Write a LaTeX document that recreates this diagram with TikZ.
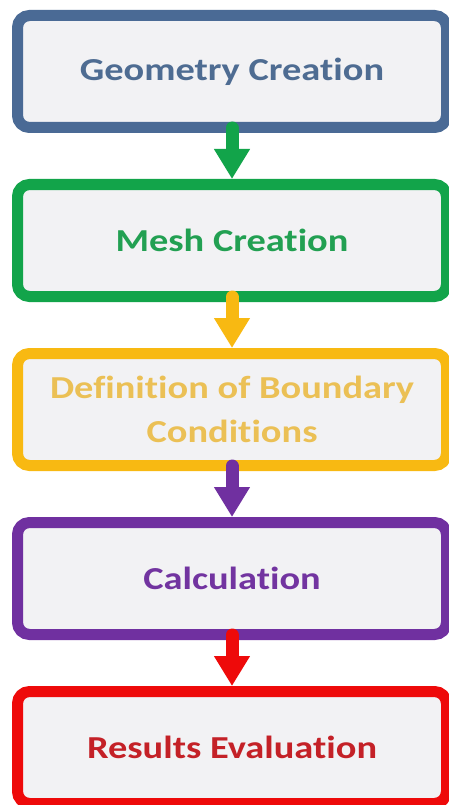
\documentclass[tikz,border=0pt]{standalone}
\usepackage{fontspec}
\setmainfont{Carlito}[FakeStretch=1.2, Ligatures=NoCommon]
\usetikzlibrary{arrows.meta,positioning}

\definecolor{boxgray}{HTML}{F2F2F4}
\definecolor{geoblue}{HTML}{4A6A95}
\definecolor{geotext}{HTML}{4E6C92}
\definecolor{meshgreen}{HTML}{12A44A}
\definecolor{meshtext}{HTML}{22A052}
\definecolor{bcyellow}{HTML}{F8B912}
\definecolor{bctext}{HTML}{EBC055}
\definecolor{calcpurple}{HTML}{7030A0}
\definecolor{calctext}{HTML}{7234A0}
\definecolor{resred}{HTML}{EE0A0A}
\definecolor{restext}{HTML}{C42127}

\begin{document}
\begin{tikzpicture}[node distance=46pt,
    stage/.style={draw=#1, fill=boxgray, line width=11pt, rounded corners=12pt,
      minimum width=429pt, minimum height=112pt, align=center,
      font=\bfseries\fontsize{32pt}{44pt}\selectfont},
    flow/.style={-{Triangle[width=34pt,length=30pt]}, line width=13pt,
      line cap=round, color=#1}]
  \useasboundingbox[fill=white] (0,0) rectangle (449pt,-805pt);

  \node (geo) [stage=geoblue, text=geotext] at (232pt,-71.5pt) {Geometry Creation};
  \node (mesh) [below=of geo, stage=meshgreen, text=meshtext] {Mesh Creation};
  \node (bc) [below=of mesh, stage=bcyellow, text=bctext] {Definition of Boundary\\Conditions};
  \node (calc) [below=of bc, stage=calcpurple, text=calctext] {Calculation};
  \node (res) [below=of calc, stage=resred, text=restext] {Results Evaluation};

  % arrows between the steps
  \draw[flow=meshgreen] ([yshift=5pt]geo.south) -- (mesh.north);
  \draw[flow=bcyellow] ([yshift=5pt]mesh.south) -- (bc.north);
  \draw[flow=calcpurple] ([yshift=5pt]bc.south) -- (calc.north);
  \draw[flow=resred] ([yshift=5pt]calc.south) -- (res.north);
\end{tikzpicture}
\end{document}
